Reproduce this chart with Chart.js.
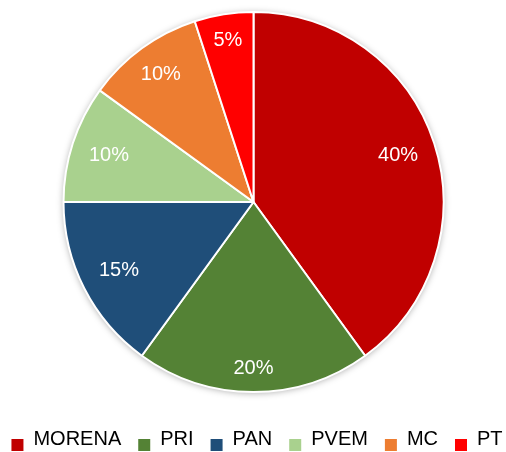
<!DOCTYPE html>
<html>
<head>
<meta charset="utf-8">
<script src="https://cdn.jsdelivr.net/npm/chart.js@4"></script>
<style>
  html, body { margin: 0; padding: 0; background: #fff; }
  #wrap { width: 506px; height: 452px; }
</style>
</head>
<body>
<div id="wrap"><canvas id="chart_parties"></canvas></div>
<script>
const parties = ['MORENA', 'PRI', 'PAN', 'PVEM', 'MC', 'PT'];
const shares = [40, 20, 15, 10, 10, 5];
const partyColors = ['#C00000', '#548235', '#1F4E79', '#A9D18E', '#ED7D31', '#FF0000'];

// how far out (fraction of radius) each % label sits, like excel's best fit
const labelRadius = [0.80, 0.875, 0.795, 0.80, 0.83, 0.86];

// soft shadow under the whole pie (excel style)
const pieShadow = {
  id: 'pieShadow',
  beforeDatasetsDraw(chart) {
    const arc = chart.getDatasetMeta(0).data[0];
    if (!arc) return;
    const ctx = chart.ctx;
    ctx.save();
    ctx.shadowColor = 'rgba(0, 0, 0, 0.35)';
    ctx.shadowBlur = 7;
    ctx.shadowOffsetY = 1;
    ctx.fillStyle = '#ffffff';
    ctx.beginPath();
    ctx.arc(arc.x, arc.y, arc.outerRadius, 0, Math.PI * 2);
    ctx.fill();
    ctx.restore();
  }
};

const percentLabels = {
  id: 'percentLabels',
  afterDatasetsDraw(chart) {
    const ctx = chart.ctx;
    const meta = chart.getDatasetMeta(0);
    ctx.save();
    ctx.fillStyle = '#ffffff';
    ctx.font = '20px "Liberation Sans"';
    ctx.textAlign = 'center';
    ctx.textBaseline = 'middle';
    meta.data.forEach((arc, i) => {
      const mid = (arc.startAngle + arc.endAngle) / 2;
      const r = arc.outerRadius * labelRadius[i];
      ctx.fillText(shares[i] + '%', arc.x + Math.cos(mid) * r, arc.y + Math.sin(mid) * r);
    });
    ctx.restore();
  }
};

// the built-in legend wraps PT onto a second row, so draw one row by hand
const bottomLegend = {
  id: 'bottomLegend',
  afterDraw(chart) {
    const ctx = chart.ctx;
    const labels = chart.data.labels;
    const colors = chart.data.datasets[0].backgroundColor;
    const box = 12, textGap = 10, itemGap = 17;
    ctx.save();
    ctx.font = '20px "Liberation Sans"';
    ctx.textBaseline = 'alphabetic';
    ctx.textAlign = 'left';
    const widths = labels.map(t => ctx.measureText(t).width);
    let total = 0;
    widths.forEach(w => { total += box + textGap + w; });
    total += itemGap * (labels.length - 1);
    let x = (chart.width - total) / 2 + 4;
    const baseline = 445;
    labels.forEach((t, i) => {
      ctx.fillStyle = colors[i];
      ctx.fillRect(x, baseline - 6, box, box);
      ctx.fillStyle = '#000000';
      ctx.fillText(t, x + box + textGap, baseline);
      x += box + textGap + widths[i] + itemGap;
    });
    ctx.restore();
  }
};

new Chart(document.getElementById('chart_parties'), {
  type: 'pie',
  data: {
    labels: parties,
    datasets: [{
      data: shares,
      backgroundColor: partyColors,
      borderColor: '#ffffff',
      borderWidth: 2
    }]
  },
  options: {
    responsive: true,
    maintainAspectRatio: false,
    animation: false,
    radius: 190,
    layout: {
      padding: { top: 0, bottom: 48, left: 1, right: 0 }
    },
    plugins: {
      tooltip: { enabled: false },
      legend: { display: false }
    }
  },
  plugins: [pieShadow, percentLabels, bottomLegend]
});
</script>
</body>
</html>
